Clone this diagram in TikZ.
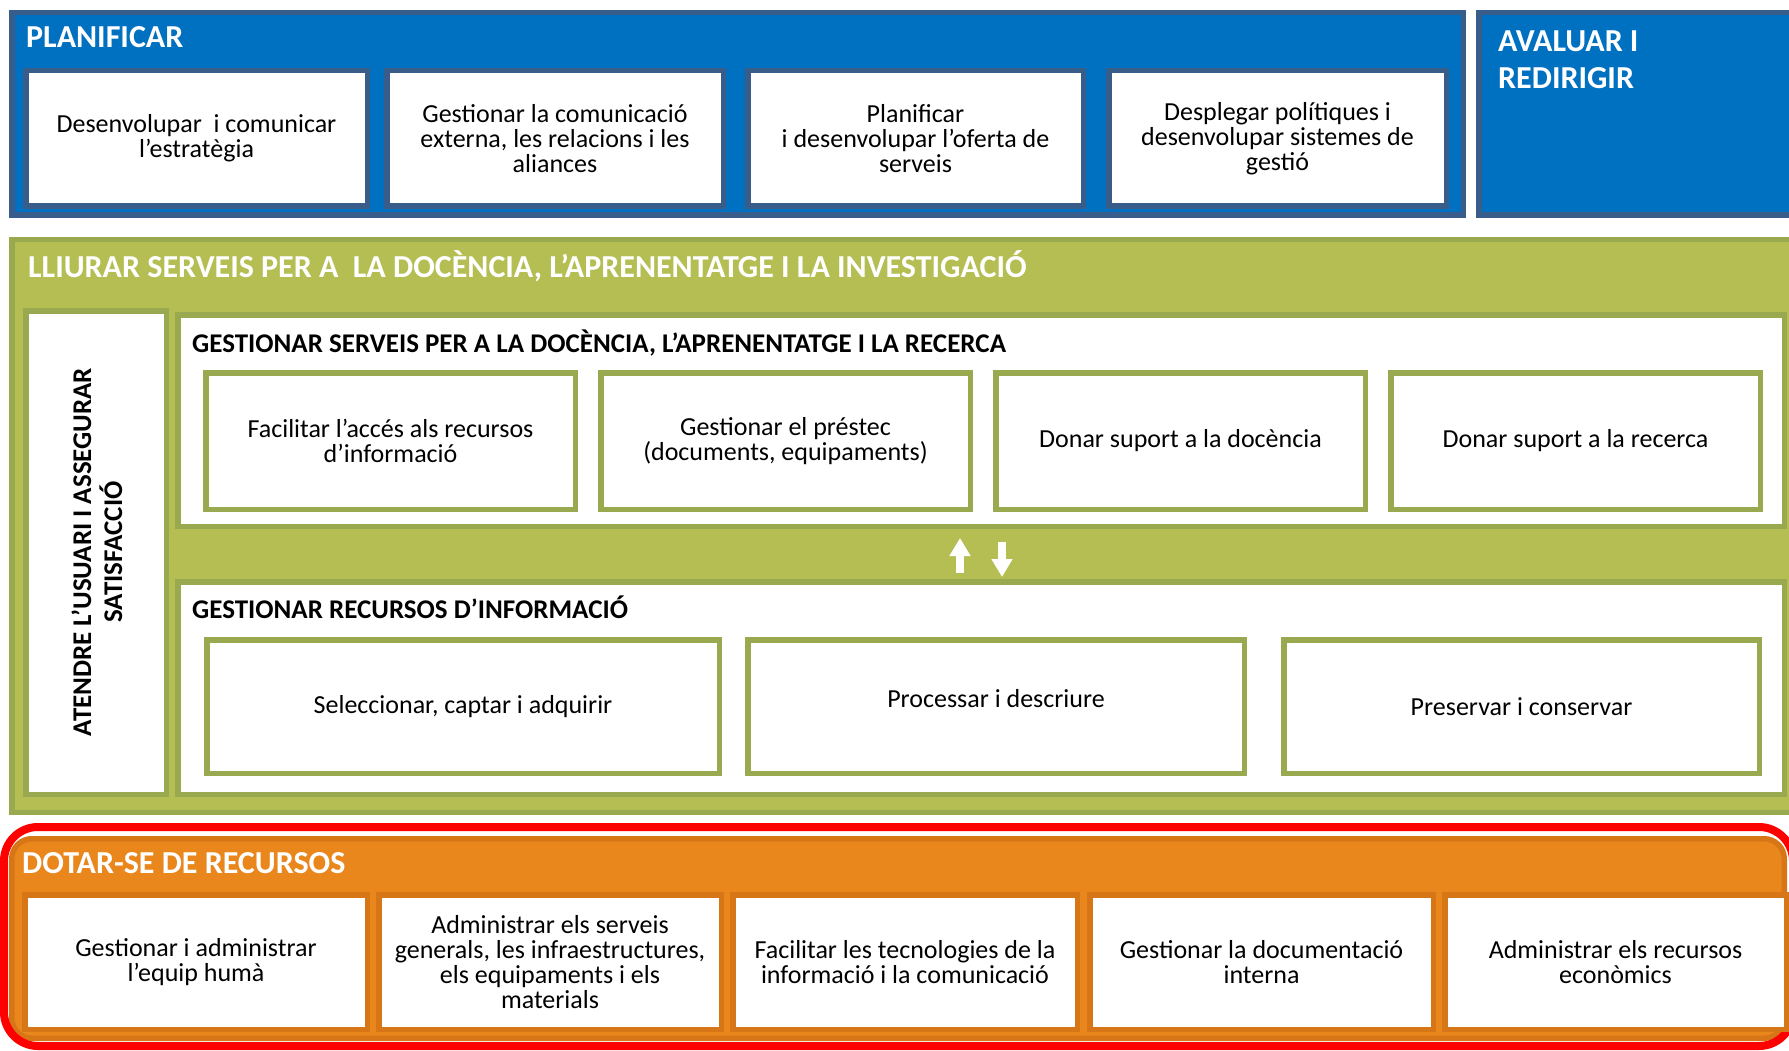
\documentclass[tikz,border=0pt]{standalone}
\usepackage{fontspec}
\setmainfont{Carlito}
\usetikzlibrary{arrows.meta}
\definecolor{bluefill}{RGB}{0,112,192}
\definecolor{blueline}{RGB}{56,93,138}
\definecolor{greenfill}{RGB}{181,190,83}
\definecolor{greenline}{RGB}{153,169,80}
\definecolor{orangefill}{RGB}{233,134,28}
\definecolor{orangeline}{RGB}{214,118,22}
\newcommand\mybody{\fontsize{26}{25}\selectfont\lineskiplimit=-100pt\relax}
\newcommand\mytitle{\fontsize{32}{37}\selectfont\bfseries}
\newcommand\mysub{\fontsize{27}{31}\selectfont\bfseries\lineskiplimit=-100pt\relax}
\newcommand\bx[7]{\node[#6, minimum width={#4-#2-5.5}, minimum height={#5-#3-5.5}] (#1) at ({(#2+#4)/2},{(#3+#5)/2}) {#7};}
\tikzset{
  box/.style={draw, line width=5.5pt, inner sep=0pt, outer sep=0pt, align=center, font=\mybody, text=black},
  blueouter/.style={box, fill=bluefill, draw=blueline},
  bluecell/.style={box, fill=white, draw=blueline},
  greenouter/.style={box, fill=greenfill, draw=greenline},
  greencell/.style={box, fill=white, draw=greenline},
  orangecell/.style={box, fill=white, draw=orangeline},
  orangeouter/.style={box, fill=orangefill, draw=orangeline, rounded corners=20pt},
  maintitle/.style={anchor=base west, inner sep=0pt, text=white, font=\mytitle},
  subtitle/.style={anchor=base west, inner sep=0pt, text=black, font=\mysub},
  celltext/.style={inner sep=0pt, align=center, font=\mybody, text=black},
  whitearrow/.style={draw=white, line width=8pt, -{Triangle[width=20pt,length=18pt]}},
  redframe/.style={draw=red, line width=8pt, rounded corners=34pt}
}
\begin{document}
\begin{tikzpicture}[x=1pt,y=-1pt]
\useasboundingbox[fill=white] (0,0) rectangle (1789,1051);
\clip (0,0) rectangle (1789,1051);
% PLANIFICAR
\bx{planificar}{9}{10}{1466}{218}{blueouter}{}
\node[maintitle] (tplan) at (26,48) {PLANIFICAR};
\bx{p1}{23}{68}{370}{209}{bluecell}{Desenvolupar\ \ i comunicar\\l’estratègia}
\bx{p2}{384}{68}{726}{209}{bluecell}{Gestionar la comunicació\\externa, les relacions i les\\aliances}
\bx{p3}{745}{68}{1086}{209}{bluecell}{Planificar\\i desenvolupar l’oferta de\\serveis}
\bx{p4}{1106}{68}{1449}{209}{bluecell}{Desplegar polítiques i\\desenvolupar sistemes de\\gestió}
% AVALUAR
\bx{avaluar}{1476}{10}{1800}{218}{blueouter}{}
\node[maintitle] (tav1) at (1498,52) {AVALUAR I};
\node[maintitle] (tav2) at (1498,89) {REDIRIGIR};
% LLIURAR
\bx{lliurar}{9}{237}{1800}{815}{greenouter}{}
\node[maintitle] (tll) at (28,277) {LLIURAR SERVEIS PER A\ \ LA DOCÈNCIA, L’APRENENTATGE I LA INVESTIGACIÓ};
\bx{atendre}{23}{308}{169}{797}{greencell}{}
\node[rotate=90, align=center, font=\mysub, inner sep=0pt] (tat) at (97,552) {ATENDRE L’USUARI I ASSEGURAR\\SATISFACCIÓ};
% GESTIONAR SERVEIS
\bx{gs}{175}{312}{1787}{529}{greencell}{}
\node[subtitle] (tgs) at (192,352) {GESTIONAR SERVEIS PER A LA DOCÈNCIA, L’APRENENTATGE I LA RECERCA};
\bx{s1}{203}{370}{578}{512}{greencell}{Facilitar l’accés als recursos\\d’informació}
\bx{s2}{598}{370}{973}{512}{greencell}{Gestionar el préstec\\(documents, equipaments)}
\bx{s3}{993}{370}{1368}{512}{greencell}{Donar suport a la docència}
\bx{s4}{1388}{370}{1763}{512}{greencell}{Donar suport a la recerca}
% arrows
\coordinate (ua) at (960,573);
\coordinate (ub) at (960,538);
\coordinate (da) at (1002,542);
\coordinate (db) at (1002,577);
\draw[whitearrow] (ua) -- (ub);
\draw[whitearrow] (da) -- (db);
% GESTIONAR RECURSOS
\bx{gr}{175}{579}{1787}{797}{greencell}{}
\node[subtitle] (tgr) at (192,618) {GESTIONAR RECURSOS D’INFORMACIÓ};
\bx{r1}{204}{637}{722}{776}{greencell}{Seleccionar, captar i adquirir}
\bx{r2}{745}{637}{1247}{776}{greencell}{}
\node[celltext] (r2t) at ([yshift=8pt]r2.center) {Processar i descriure};
\bx{r3}{1281}{637}{1762}{776}{greencell}{Preservar i conservar}
% DOTAR-SE
\bx{dotar}{9}{836}{1787}{1041}{orangeouter}{}
\draw[redframe] (4,827) rectangle (1793,1046);
\node[maintitle] (tdo) at (22,873) {DOTAR-SE DE RECURSOS};
\bx{o1}{22}{892}{370}{1032}{orangecell}{Gestionar i administrar\\l’equip humà}
\bx{o2}{376}{892}{724}{1032}{orangecell}{Administrar els serveis\\generals, les infraestructures,\\els equipaments i els\\materials}
\bx{o3}{730}{892}{1080}{1032}{orangecell}{Facilitar les tecnologies de la\\informació i la comunicació}
\bx{o4}{1087}{892}{1436}{1032}{orangecell}{Gestionar la documentació\\interna}
\bx{o5}{1442}{892}{1789}{1032}{orangecell}{Administrar els recursos\\econòmics}
\end{tikzpicture}
\end{document}
